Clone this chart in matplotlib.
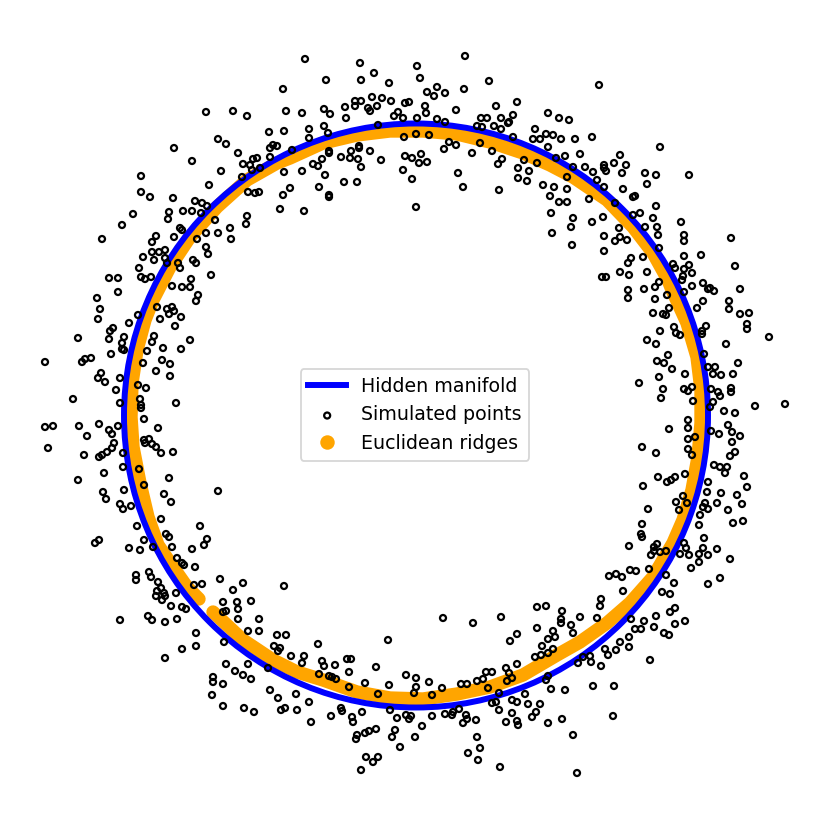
import numpy as np
import matplotlib
matplotlib.use("Agg")
import matplotlib.pyplot as plt
from matplotlib.patches import Circle
from matplotlib.lines import Line2D

# Simulated points (picture units: x right, y down)
sim_points = [
    (283,89),(206,112),(233,111),(247,116),(286,111),(269,132),(284,131),(218,139),(226,144),(174,148),
    (192,161),(238,153),(270,148),(273,145),(277,146),(253,159),(257,158),(243,164),(250,165),(270,157),
    (221,171),(141,176),(209,185),(242,177),(252,170),(260,168),(284,172),(141,192),(150,197),
    (173,198),(195,201),(202,203),(207,206),(248,192),(255,193),(259,192),(283,195),(290,188),(280,209),
    (133,214),(169,212),(183,211),(192,211),(168,219),(201,213),(215,220),(247,216),(246,224),(230,228),
    (231,239),(122,225),(180,228),(182,230),(206,233),(218,233),(102,239),(156,236),(174,237),(197,239),
    (152,242),(143,257),(152,252),(159,252),(165,250),(154,260),(165,258),(167,263),(178,263),(180,268),
    (193,260),(196,263),(206,247),(208,254),(139,268),(109,278),(118,278),(141,277),(145,279),(151,277),
    (191,279),(211,275),(172,286),(182,287),(190,287),(118,292),(97,298),(198,295),(292,150),
    # top
    (305,59),(360,63),(374,73),(326,80),(361,80),(417,66),(420,78),(465,56),(389,83),(489,81),
    (437,87),(427,92),(434,96),(445,93),(464,89),(372,97),(382,98),(391,101),(355,101),(361,101),
    (355,106),(405,103),(409,102),(425,106),(517,102),(324,109),(345,107),(368,108),(377,106),(370,111),
    (456,110),(496,106),(302,113),(330,114),(398,112),(426,113),(346,118),(394,116),(403,118),(417,118),
    (437,119),(445,122),(481,118),(487,118),(501,118),(509,122),(513,115),(548,113),(309,129),(324,126),
    (309,138),(328,133),(378,125),(477,126),(482,127),(494,126),(501,129),(508,123),(535,129),(533,139),
    (540,139),(546,134),(513,137),(404,137),(416,134),(429,135),(480,143),(449,142),(456,145),(444,149),
    (359,146),(359,148),(351,151),(370,151),(329,151),(329,153),(322,159),(341,157),(350,158),(358,159),
    (381,160),(405,156),(412,158),(421,154),(419,163),(427,162),(472,153),(492,151),(502,159),(498,164),
    (524,160),(548,147),(537,163),(313,164),(318,166),(361,167),(302,171),(403,170),(325,175),(518,168),
    (529,171),(518,178),(527,181),(458,173),(412,179),(319,187),(344,182),(357,182),(463,187),(543,185),
    (499,190),(329,195),(329,197),(550,196),(304,211),(416,207),(551,213),(552,233),
    # top right
    (599,85),(559,118),(569,120),(553,135),(561,139),(575,139),(592,137),(660,147),(580,154),(565,156),
    (556,158),(620,155),(614,163),(626,165),(604,165),(604,168),(606,171),(585,167),(593,172),(622,173),
    (645,173),(656,175),(689,175),(647,184),(573,167),(567,177),(597,180),(604,187),(554,187),(567,189),
    (623,189),(589,199),(633,197),(635,196),(559,202),(567,202),(615,203),(656,206),(640,213),(633,215),
    (573,218),(592,222),(603,217),(653,218),(681,222),(645,227),(657,227),(571,227),(619,228),(658,235),
    (684,235),(684,241),(604,236),(620,237),(615,241),(627,240),(731,238),(572,245),(659,248),(604,251),
    (701,255),(684,256),(631,258),(643,257),(628,263),(673,264),(675,268),(689,265),(684,269),(692,273),
    (683,276),(735,266),(647,272),(620,272),(629,275),(602,277),(606,277),(659,282),(682,280),(692,286),
    (703,283),(708,289),(710,288),(714,291),(740,289),(644,289),(655,287),(628,290),(667,295),(684,292),
    (628,298),(655,299),(703,301),(729,301),
    # left
    (100,309),(98,319),(129,323),(138,315),(157,307),(196,301),(167,309),(172,307),(174,311),(169,314),
    (181,317),(160,319),(175,326),(113,328),(110,331),(109,339),(124,337),(78,338),(154,336),(152,342),
    (190,340),(122,343),(122,349),(124,350),(111,354),(147,351),(163,348),(181,349),(45,362),(82,362),
    (85,359),(91,358),(143,363),(162,360),(170,364),(156,371),(101,373),(98,378),(105,382),(120,378),
    (170,376),(116,390),(138,385),(146,388),(73,399),(140,399),(120,403),(141,405),(141,408),(176,403),
    (144,419),(45,427),(53,426),(79,426),(99,424),(118,426),(109,430),(112,434),(87,436),(158,428),
    (144,440),(145,443),(149,439),(152,444),(156,447),(161,453),(173,452),(48,448),(114,443),(112,448),
    (107,452),(102,455),(99,457),(84,455),(123,453),(123,467),(104,473),(139,469),(144,485),(169,478),
    (78,480),(218,491),(103,492),(106,499),(124,490),(164,494),(171,502),(120,504),(123,509),(131,506),
    (161,519),(137,526),(200,526),(166,534),(169,537),(144,540),(207,539),(204,545),(95,543),(99,540),
    (129,548),(140,550),(172,547),(192,549),
    # bottom left
    (153,547),(177,558),(182,563),(184,565),(195,567),(136,575),(136,580),(149,572),(151,577),(158,582),
    (161,588),(157,591),(164,593),(156,596),(165,596),(162,600),(176,593),(194,585),(202,584),(220,579),
    (243,583),(284,586),(233,590),(171,606),(182,607),(186,609),(223,602),(237,602),(251,601),(226,611),
    (223,612),(238,609),(238,619),(120,620),(148,616),(152,620),(165,622),(177,619),(259,619),(248,631),
    (259,631),(277,635),(286,635),(196,633),(224,642),(196,646),(182,649),(274,646),(280,648),(278,651),
    (291,656),(165,658),(226,664),(248,664),(268,668),(235,671),(243,675),(251,679),(213,677),(213,682),
    (223,684),(270,690),(296,694),(212,695),(278,698),(223,706),(244,708),(254,712),(281,710),(285,708),
    (297,710),
    # bottom
    (318,644),(388,640),(443,618),(473,623),(501,617),(537,607),(546,606),(537,628),(517,634),(510,641),
    (548,639),(542,646),(535,657),(541,655),(548,653),(304,656),(302,663),(322,661),(324,666),(335,665),
    (347,659),(351,659),(349,672),(376,667),(319,674),(329,676),(332,677),(336,679),(349,687),(365,683),
    (389,685),(406,675),(416,678),(416,687),(414,693),(429,682),(442,688),(432,695),(461,684),(467,684),
    (477,681),(483,679),(486,672),(492,672),(506,668),(509,673),(517,664),(512,678),(488,688),(499,693),
    (507,681),(525,694),(517,702),(512,700),(528,704),(540,704),(548,676),(492,703),(496,702),(309,702),
    (311,722),(331,716),(341,708),(342,711),(352,717),(353,722),(362,712),(378,694),(390,710),(397,718),
    (406,715),(409,719),(411,716),(422,726),(432,716),(445,714),(452,715),(453,712),(459,709),(463,723),
    (466,715),(467,719),(476,720),(499,710),(506,722),(512,713),(517,721),(518,725),(532,717),(536,712),
    (548,723),(357,735),(356,739),(365,733),(369,731),(376,729),(392,737),(395,730),(415,737),(400,747),
    (477,737),(480,748),(468,753),(478,760),(366,757),(378,757),(373,762),(361,770),(500,767),
    # bottom right
    (629,546),(654,547),(657,544),(654,551),(651,555),(660,552),(666,551),(680,554),(686,548),
    (689,555),(684,543),(699,554),(703,548),(708,555),(717,549),(730,559),(699,562),(691,568),
    (630,570),(636,571),(649,569),(609,576),(616,574),(622,577),(666,575),(674,583),(708,584),(720,578),
    (623,591),(662,592),(670,594),(601,599),(600,606),(562,611),(580,617),(597,618),(561,619),(561,623),
    (571,625),(631,619),(644,621),(656,616),(675,608),(670,612),(685,621),(675,624),(654,627),(635,629),
    (641,629),(664,633),(669,635),(553,631),(573,633),(555,637),(553,649),(629,637),(620,642),(629,647),
    (605,649),(616,650),(608,655),(590,656),(583,657),(578,663),(591,662),(601,666),(650,660),(546,680),
    (551,689),(565,690),(593,686),(614,686),(562,719),(573,735),(613,716),(577,773),
    # right
    (729,309),(653,313),(663,314),(666,315),(669,308),(697,308),(740,314),(749,313),(674,327),(676,333),
    (680,335),(660,331),(706,326),(702,331),(702,334),(747,324),(747,329),(769,337),(647,340),(656,344),
    (726,344),(668,355),(704,354),(657,361),(664,363),(672,369),(738,363),(708,367),(713,374),(715,367),
    (721,375),(733,374),(639,383),(659,377),(685,374),(663,389),(661,398),(684,389),(688,391),(692,387),
    (711,389),(718,392),(720,396),(713,402),(731,388),(731,392),(693,401),(710,407),(755,406),(785,404),
    (724,411),(735,413),(688,420),(688,428),(669,429),(711,431),(719,434),(728,425),(732,432),(740,436),
    (688,439),(695,437),(732,442),(642,447),(656,453),(688,449),(692,455),(735,452),(730,456),(714,465),
    (720,467),(727,467),(725,473),(685,474),(658,477),(667,482),(671,480),(675,477),(744,476),(747,487),
    (643,486),(708,482),(707,492),(721,493),(737,495),(683,496),(676,502),(679,510),(687,503),(705,503),
    (703,507),(708,509),(717,503),(728,510),(742,504),(648,509),(700,515),(733,523),(743,521),(642,524),
    (641,534),(642,537),(699,525),(704,538),
]

# Euclidean ridge points (same units), in order along the band
ridge_points = [
    (213,612),(243,640),(273,660),(297,672),(323,680),(357,692),(390,698),(423,699),(457,694),(490,687),
    (523,675),(540,665),(557,655),(580,642),(607,623),(630,603),(653,577),(673,543),(683,520),(692,490),
    (698,457),(701,423),(701,390),(697,357),(687,323),(672,290),(668,280),(653,253),(633,227),(607,200),
    (573,177),(550,165),(523,153),(490,142),(457,134),(423,131),(390,131),(357,135),(323,143),(290,158),
    (277,163),(247,180),(217,207),(190,237),(170,267),(153,300),(145,320),(137,350),(132,383),(131,417),
    (133,447),(140,483),(148,517),(158,545),(173,567),(187,587),(199,599),
]

# Hidden manifold: unit circle
manifold_center = (0.0, 0.0)
manifold_radius = 1.0

labels = ["Hidden manifold", "Simulated points", "Euclidean ridges"]

# reading frame of the picture: circle centre and radius in picture units
CX, CY, R = 416.0, 415.5, 292.0
W = 830

sp = np.array(sim_points, dtype=float)
sx = (sp[:, 0] - CX) / R
sy = (CY - sp[:, 1]) / R
rp = np.array(ridge_points, dtype=float)
rx = (rp[:, 0] - CX) / R
ry = (CY - rp[:, 1]) / R

DPI = 130
fig = plt.figure(figsize=(W / DPI, W / DPI), dpi=DPI)
ax = fig.add_axes([0, 0, 1, 1])
ax.set_xlim(-CX / R, (W - CX) / R)
ax.set_ylim((CY - W) / R, CY / R)
ax.axis("off")

ax.plot(rx, ry, color="orange", lw=7.4, solid_capstyle="round",
        solid_joinstyle="round", zorder=1)
ax.add_patch(Circle(manifold_center, manifold_radius, fill=False,
                    edgecolor="blue", lw=3.3, zorder=2))
sc = ax.scatter(sx, sy, s=11, facecolors="none", edgecolors="black",
                linewidths=1.25, zorder=3)

h_line = Line2D([], [], color="blue", lw=3.3)
h_ridge = Line2D([], [], ls="none", marker="o", markersize=7,
                 color="orange", markeredgecolor="orange")
leg = ax.legend([h_line, sc, h_ridge], labels, loc="center", fontsize=10.5)
leg.set_zorder(10)

fig.savefig("out.png", dpi=DPI)
